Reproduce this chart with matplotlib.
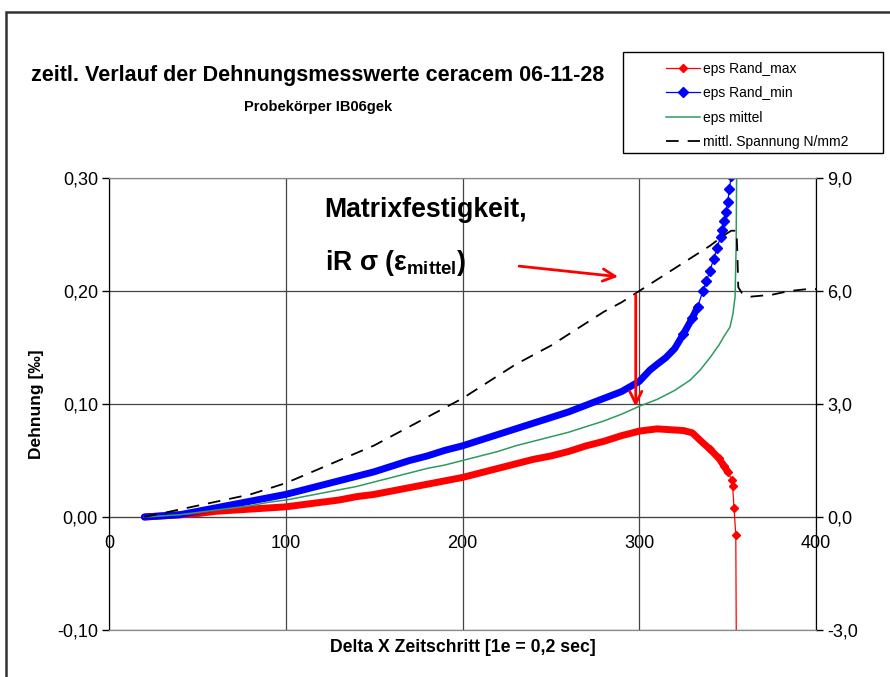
import matplotlib
matplotlib.use("Agg")
import matplotlib.pyplot as plt
from matplotlib.patches import Rectangle

plt.rcParams['font.family'] = ['Liberation Sans', 'DejaVu Sans']
plt.rcParams['mathtext.fontset'] = 'custom'
plt.rcParams['mathtext.rm'] = 'Liberation Sans'
plt.rcParams['mathtext.bf'] = 'Liberation Sans:bold'

# eps Rand_max
x_max = [20, 30, 40, 50, 60, 70, 80, 90, 100, 110, 120, 130, 140, 150, 160, 170, 180, 190,
         200, 210, 220, 230, 240, 250, 260, 270, 280, 290, 300, 310, 320, 325, 330, 335,
         340, 345, 348, 350, 352.3, 352.8, 353.6, 354.6, 355.6]
eps_max = [0.000, 0.001, 0.002, 0.003, 0.005, 0.006, 0.007, 0.008, 0.009, 0.011, 0.013,
           0.015, 0.018, 0.020, 0.023, 0.026, 0.029, 0.032, 0.035, 0.039, 0.043, 0.047,
           0.051, 0.054, 0.058, 0.063, 0.067, 0.072, 0.076, 0.078, 0.077, 0.0765, 0.0745,
           0.067, 0.060, 0.052, 0.045, 0.040, 0.033, 0.027, 0.008, -0.016, -0.35]

# eps Rand_min
x_min = [20, 30, 40, 50, 60, 70, 80, 90, 100, 110, 120, 130, 140, 150, 160, 170, 180, 190,
         200, 210, 220, 230, 240, 250, 260, 270, 280, 290, 300, 306, 310, 315, 320, 325,
         330, 333, 336, 338, 340, 342, 344, 346, 347, 348, 349, 350, 351, 352, 353]
eps_min = [0.000, 0.001, 0.002, 0.005, 0.008, 0.011, 0.014, 0.017, 0.020, 0.024, 0.028,
           0.032, 0.036, 0.040, 0.045, 0.050, 0.054, 0.059, 0.063, 0.068, 0.073, 0.078,
           0.083, 0.088, 0.093, 0.099, 0.105, 0.111, 0.120, 0.130, 0.135, 0.141, 0.149,
           0.162, 0.176, 0.186, 0.200, 0.209, 0.218, 0.228, 0.238, 0.248, 0.254, 0.262,
           0.270, 0.279, 0.290, 0.302, 0.315]

# eps mittel
x_mit = [20, 30, 40, 50, 60, 70, 80, 90, 100, 110, 120, 130, 140, 150, 160, 170, 180, 190,
         200, 210, 220, 230, 240, 250, 260, 270, 280, 290, 300, 310, 320, 328.7, 334.4,
         340, 345, 348, 351.3, 353, 354.2, 354.8, 355.1]
eps_mit = [0.000, 0.001, 0.002, 0.004, 0.006, 0.008, 0.010, 0.013, 0.015, 0.018, 0.021,
           0.024, 0.027, 0.031, 0.035, 0.039, 0.043, 0.046, 0.050, 0.054, 0.058, 0.063,
           0.067, 0.071, 0.075, 0.080, 0.085, 0.091, 0.098, 0.104, 0.112, 0.121, 0.130,
           0.141, 0.152, 0.160, 0.168, 0.180, 0.195, 0.240, 0.310]

# mittl. Spannung N/mm2
x_sp = [20, 30, 40, 50, 60, 70, 80, 90, 100, 110, 120, 130, 140, 150, 160, 170, 180, 190,
        200, 210, 220, 230, 240, 250, 260, 270, 280, 290, 300, 310, 320, 330, 340, 347,
        352, 355, 355.5, 356, 358, 363, 375, 385, 395, 400]
spannung = [0.0, 0.1, 0.2, 0.3, 0.4, 0.5, 0.6, 0.75, 0.9, 1.1, 1.3, 1.5, 1.7, 1.9, 2.15,
            2.4, 2.65, 2.9, 3.15, 3.45, 3.75, 4.05, 4.3, 4.55, 4.85, 5.15, 5.45, 5.7, 6.0,
            6.3, 6.6, 6.9, 7.2, 7.45, 7.6, 7.6, 7.0, 6.1, 5.95, 5.85, 5.9, 6.0, 6.05, 6.05]

x_ticks = [0, 100, 200, 300, 400]
y_ticks = [-0.10, 0.00, 0.10, 0.20, 0.30]
y_labels = ['-0,10', '0,00', '0,10', '0,20', '0,30']
y2_ticks = [-3, 0, 3, 6, 9]
y2_labels = ['-3,0', '0,0', '3,0', '6,0', '9,0']

fig = plt.figure(figsize=(8.9, 6.77), dpi=100)
ax = fig.add_axes([0.1225, 0.0694, 0.7944, 0.6677])
ax2 = ax.twinx()

# chart area frame
fig.patches.append(Rectangle((6 / 890, -0.1), 1.2, 1.1 - 12 / 677, transform=fig.transFigure,
                             fill=False, ec='#333333', lw=1.8))

ax.set_xlim(0, 400)
ax.set_ylim(-0.1, 0.3)
ax2.set_ylim(-3, 9)

ax.set_xticks(x_ticks)
ax.set_yticks(y_ticks)
ax.set_yticklabels(y_labels)
ax.tick_params(axis='x', length=0, labelbottom=False)
ax.tick_params(axis='y', direction='out', length=5, width=1, labelsize=13, pad=3)
ax.grid(True, color='#444444', lw=0.9)
ax.set_axisbelow(True)

ax2.set_yticks(y2_ticks)
ax2.set_yticklabels(y2_labels)
ax2.tick_params(axis='y', direction='out', length=5, width=1, labelsize=13, pad=3)

for a in (ax, ax2):
    a.spines['top'].set_color('#888888')
    a.spines['bottom'].set_color('#888888')
    a.spines['left'].set_color('black')
    a.spines['right'].set_color('black')

# x axis crossing at y = 0
sec = ax.secondary_xaxis(0.25)
sec.set_xticks(x_ticks)
sec.set_xticklabels([str(v) for v in x_ticks])
sec.tick_params(axis='x', length=0, labelsize=13, pad=13)
sec.spines['bottom'].set_color('#444444')

# dense marker bands
n_max = x_max.index(350) + 1
n_min = x_min.index(333) + 1
ax.plot(x_max[:n_max], eps_max[:n_max], color='red', lw=5, solid_capstyle='round')
ax.plot(x_min[:n_min], eps_min[:n_min], color='blue', lw=5, solid_capstyle='round')

l_max, = ax.plot(x_max, eps_max, color='red', lw=0.9, marker='D', ms=4.5,
                 markevery=list(range(n_max - 4, len(x_max) - 1)), label='eps Rand_max')
l_min, = ax.plot(x_min, eps_min, color='blue', lw=0.9, marker='D', ms=5,
                 markevery=list(range(x_min.index(325), len(x_min))), label='eps Rand_min')
l_mit, = ax.plot(x_mit, eps_mit, color='#2e9b5e', lw=1.1, label='eps mittel')
l_sp, = ax2.plot(x_sp, spannung, color='black', lw=1.3, ls=(0, (7, 5)),
                 label='mittl. Spannung N/mm2')

ax.set_ylabel('Dehnung [‰]', fontsize=12.5, fontweight='bold', labelpad=9)
fig.text(463 / 890, 1 - 647 / 677, 'Delta X Zeitschritt [1e = 0,2 sec]', ha='center',
         va='center', fontsize=12.7, fontweight='bold')

fig.text(318 / 890, 1 - 76 / 677, 'zeitl. Verlauf der Dehnungsmesswerte ceracem 06-11-28',
         ha='center', va='center', fontsize=15.5, fontweight='bold')
fig.text(318 / 890, 1 - 107 / 677, 'Probekörper IB06gek', ha='center', va='center',
         fontsize=10.5, fontweight='bold')

# annotation
ax2.text(122, 8.15, 'Matrixfestigkeit,', fontsize=19.2, fontweight='bold', va='center')
ax2.text(122, 6.75, r'iR σ (ε$_{\mathbf{mittel}}$)', fontsize=19.2, fontweight='bold',
         va='center')
ax2.annotate('', xy=(288, 6.38), xytext=(232, 6.66),
             arrowprops=dict(arrowstyle='->', color='red', lw=2, mutation_scale=22,
                             shrinkA=0, shrinkB=0))
ax2.annotate('', xy=(298, 2.93), xytext=(298, 5.9),
             arrowprops=dict(arrowstyle='->', color='red', lw=2, mutation_scale=22,
                             shrinkA=0, shrinkB=0))

# legend
fig.patches.append(Rectangle((623 / 890, 1 - 153 / 677), 260 / 890, 101 / 677,
                             transform=fig.transFigure, fill=False, ec='black', lw=1))
fig.legend([l_max, l_min, l_mit, l_sp], [h.get_label() for h in (l_max, l_min, l_mit, l_sp)],
           loc='upper left', bbox_to_anchor=(656 / 890, 1 - 52 / 677), frameon=False,
           fontsize=10, numpoints=1, handlelength=2.5, handletextpad=0.2, labelspacing=0.75,
           borderpad=0.2)

fig.savefig('out.png', dpi=100)
